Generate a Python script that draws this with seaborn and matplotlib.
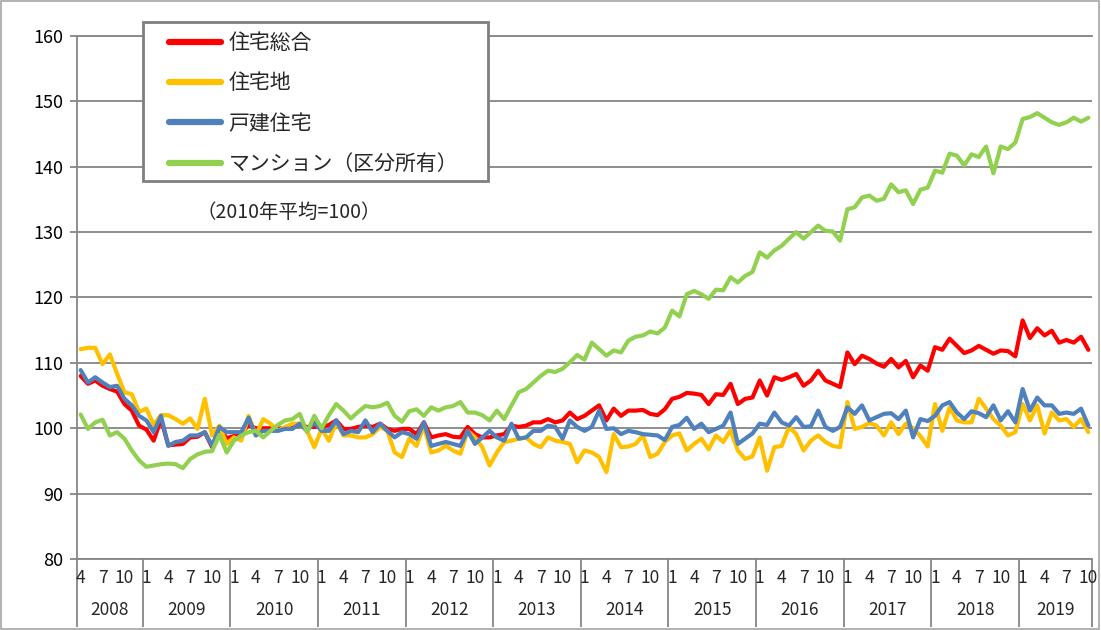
import numpy as np
import pandas as pd
import matplotlib.pyplot as plt
import seaborn as sns
from matplotlib.patches import Rectangle

# 不動産価格指数（住宅）月次 2008年4月～2019年10月
months = pd.date_range('2008-04-01', periods=139, freq='MS')

# 住宅総合
sogo = [108.0, 106.8, 107.3, 106.5, 106.0, 105.6, 103.7, 102.7, 100.4,
        99.8, 98.1, 101.4, 97.4, 97.5, 97.6, 98.6, 98.7, 99.4, 97.1, 99.9, 98.5,
        98.8, 99.2, 100.5, 100.0, 100.0, 100.0, 100.0, 99.9, 100.2, 100.5, 100.2, 100.2,
        100.2, 100.5, 101.2, 99.9, 99.9, 100.2, 100.4, 100.2, 100.7, 99.9, 99.6, 99.9,
        99.9, 99.1, 100.9, 98.6, 98.9, 99.1, 98.7, 98.6, 100.2, 99.1, 98.6, 98.6,
        98.9, 99.1, 100.4, 100.2, 100.4, 100.9, 100.9, 101.4, 100.9, 101.2, 102.4, 101.4,
        101.9, 102.7, 103.5, 101.2, 103.0, 101.9, 102.7, 102.7, 102.8, 102.2, 102.0, 102.9,
        104.5, 104.8, 105.4, 105.3, 105.1, 103.7, 105.2, 105.1, 106.8, 103.7, 104.5, 104.7,
        107.3, 105.0, 107.8, 107.4, 107.8, 108.3, 106.5, 107.3, 108.8, 107.3, 106.8, 106.3,
        111.6, 109.8, 111.1, 110.6, 109.9, 109.4, 110.6, 109.3, 110.3, 107.8, 109.6, 108.8,
        112.4, 112.0, 113.7, 112.6, 111.5, 111.9, 112.6, 112.0, 111.4, 111.9, 111.8, 111.0,
        116.5, 113.8, 115.3, 114.2, 114.9, 113.1, 113.5, 113.1, 114.0, 112.0]

# 住宅地
takuchi = [112.1, 112.3, 112.3, 109.8, 111.3, 108.3, 105.5, 105.2, 102.5,
           103.0, 100.5, 102.0, 102.0, 101.4, 100.7, 101.5, 99.9, 104.5, 98.9, 100.4, 97.6,
           98.6, 98.1, 101.9, 98.9, 101.4, 100.7, 99.6, 100.2, 100.7, 100.7, 99.6, 97.1,
           99.9, 98.1, 100.9, 98.9, 98.9, 98.6, 98.6, 99.1, 100.2, 99.6, 96.3, 95.6,
           98.4, 97.3, 100.4, 96.3, 96.6, 97.3, 96.6, 96.1, 99.6, 98.6, 97.1, 94.3,
           96.3, 97.9, 98.1, 98.4, 98.6, 97.6, 97.1, 98.6, 98.1, 97.9, 97.6, 94.8,
           96.6, 96.3, 95.6, 93.3, 99.1, 97.1, 97.2, 97.6, 98.9, 95.6, 96.1, 97.9,
           98.9, 99.2, 96.6, 97.6, 98.4, 96.8, 98.9, 97.9, 99.7, 96.6, 95.3, 95.7,
           98.6, 93.5, 97.1, 97.3, 100.2, 99.1, 96.6, 98.1, 98.9, 97.9, 97.3, 97.1,
           104.0, 99.9, 100.2, 100.8, 100.4, 98.9, 100.9, 99.1, 100.7, 100.0, 98.8, 97.2,
           103.7, 99.6, 103.2, 101.2, 100.9, 100.9, 104.5, 103.0, 101.4, 100.4, 98.9, 99.4,
           103.7, 101.2, 103.5, 99.2, 102.4, 101.2, 101.4, 100.2, 101.4, 99.4]

# 戸建住宅
kodate = [108.9, 107.0, 107.8, 107.0, 106.3, 106.5, 104.5, 103.5, 101.9,
          101.2, 99.4, 101.9, 97.3, 97.9, 98.1, 98.9, 98.9, 99.4, 97.3, 100.2, 99.4,
          99.4, 99.4, 101.6, 98.9, 99.6, 99.6, 99.6, 99.9, 99.9, 100.7, 99.6, 100.9,
          99.6, 99.6, 101.2, 99.1, 99.6, 99.4, 101.2, 99.4, 100.7, 99.6, 98.6, 99.4,
          99.1, 98.4, 100.9, 97.3, 97.6, 97.9, 97.6, 97.3, 99.6, 97.6, 98.6, 99.6,
          98.6, 98.1, 100.7, 98.4, 98.6, 99.6, 99.6, 100.4, 100.2, 98.4, 101.2, 100.2,
          99.6, 100.2, 102.7, 99.9, 100.0, 99.1, 99.6, 99.4, 99.1, 99.0, 98.9, 98.2,
          100.2, 100.5, 101.6, 99.9, 100.7, 99.4, 99.9, 100.4, 102.4, 97.6, 98.4, 99.2,
          100.7, 100.5, 102.4, 100.9, 100.4, 101.7, 100.2, 100.3, 102.7, 100.2, 99.6, 100.2,
          103.2, 102.2, 103.5, 101.2, 101.7, 102.2, 102.3, 101.4, 102.7, 98.6, 101.4, 101.1,
          101.9, 103.5, 104.0, 102.4, 101.4, 102.6, 102.3, 101.7, 103.5, 101.2, 102.6, 100.9,
          106.0, 102.7, 104.7, 103.5, 103.5, 102.2, 102.4, 102.2, 103.0, 100.4]

# マンション（区分所有）
mansion = [102.1, 99.9, 100.9, 101.3, 98.9, 99.4, 98.4, 96.6, 95.1,
           94.1, 94.3, 94.5, 94.6, 94.5, 93.9, 95.3, 96.0, 96.4, 96.5, 99.0, 96.3,
           98.1, 98.9, 99.4, 99.6, 98.6, 99.6, 100.5, 101.2, 101.4, 102.2, 99.4, 101.9,
           100.0, 102.0, 103.7, 102.7, 101.5, 102.5, 103.4, 103.2, 103.4, 103.9, 101.9, 101.0,
           102.6, 102.9, 101.9, 103.2, 102.7, 103.2, 103.4, 104.0, 102.4, 102.4, 102.0, 101.2,
           102.7, 101.4, 103.5, 105.5, 106.0, 107.0, 108.0, 108.8, 108.6, 109.1, 110.1, 111.2,
           110.5, 113.1, 112.1, 111.1, 111.9, 111.6, 113.4, 114.0, 114.2, 114.8, 114.5, 115.4,
           118.0, 117.1, 120.5, 121.0, 120.5, 119.8, 121.2, 121.1, 123.1, 122.3, 123.3, 123.9,
           126.9, 126.1, 127.2, 127.9, 129.0, 130.0, 129.0, 130.0, 131.0, 130.2, 130.1, 128.7,
           133.5, 133.8, 135.3, 135.6, 134.8, 135.1, 137.3, 136.1, 136.4, 134.3, 136.5, 136.8,
           139.4, 139.1, 142.0, 141.7, 140.2, 141.9, 141.5, 143.1, 139.0, 143.1, 142.7, 143.7,
           147.3, 147.6, 148.2, 147.5, 146.8, 146.4, 146.8, 147.5, 146.9, 147.5]

series_names = ['住宅総合', '住宅地', '戸建住宅', 'マンション（区分所有）']
colors = ['#FF0000', '#FFC000', '#4F81BD', '#92D050']
y_ticks = [80, 90, 100, 110, 120, 130, 140, 150, 160]

n = len(months)
df = pd.DataFrame({
    'idx': np.tile(np.arange(n), 4),
    'value': sogo + takuchi + kodate + mansion,
    'series': np.repeat(series_names, n),
})

sns.set_style('white')
plt.rcParams['font.family'] = ['Noto Sans CJK JP', 'DejaVu Sans']

fig = plt.figure(figsize=(11.01, 6.30), dpi=100)
ax = fig.add_axes([77 / 1101, 71 / 630, 1015 / 1101, 523 / 630])

sns.lineplot(data=df, x='idx', y='value', hue='series', hue_order=series_names,
             palette=colors, linewidth=3, legend=False, ax=ax)
for line in ax.get_lines():
    line.set_solid_joinstyle('round')
    line.set_solid_capstyle('round')

grid_col = '#868686'
ax.set_xlim(-0.5, n - 0.5)
ax.set_ylim(80, 160)
ax.set_yticks(y_ticks)
ax.set_xticks([])
ax.set_xlabel('')
ax.set_ylabel('')
ax.grid(axis='y', color=grid_col, linewidth=1.3)
ax.set_axisbelow(True)
for side in ['top', 'bottom', 'left']:
    ax.spines[side].set_color(grid_col)
    ax.spines[side].set_linewidth(1.3)
ax.spines['right'].set_visible(False)
ax.tick_params(axis='y', left=True, length=5, width=1.3, color=grid_col,
               labelsize=13, pad=5, labelcolor='black')

# 月ラベルと年ラベル（2段のカテゴリ軸）
xt = ax.get_xaxis_transform()
for i, d in enumerate(months):
    if d.month in (1, 4, 7, 10):
        ax.text(i, -0.036, str(d.month), transform=xt, ha='center', va='center',
                fontsize=12.5)

bounds = [-0.5] + [i - 0.5 for i, d in enumerate(months) if d.month == 1] + [n - 0.5]
for a, b in zip(bounds[:-1], bounds[1:]):
    year = months[int(a + 0.5)].year
    ax.text((a + b) / 2, -0.098, str(year), transform=xt, ha='center', va='center',
            fontsize=12.5)
ax.vlines(bounds, -0.13, 0, transform=xt, colors=grid_col, linewidth=1.3, clip_on=False)

# 外枠
fig.add_artist(Rectangle((0.001, 0.001), 0.997, 0.997, transform=fig.transFigure,
                         fill=False, edgecolor='#a6a6a6', linewidth=1.2))

# 凡例
fig.add_artist(Rectangle((143 / 1101, 1 - 181 / 630), 345 / 1101, 159 / 630,
                         transform=fig.transFigure, facecolor='white',
                         edgecolor='#7f7f7f', linewidth=2, zorder=3))
leg = fig.legend(ax.get_lines(), series_names, loc='upper left',
                 bbox_to_anchor=(169 / 1101, 1 - 32 / 630), frameon=False,
                 fontsize=15, handlelength=2.5, handletextpad=0.35,
                 labelspacing=0.88, borderpad=0, borderaxespad=0)
leg.set_zorder(5)
for h in leg.get_lines():
    h.set_linewidth(4.5)
    h.set_solid_capstyle('round')

fig.text(196 / 1101, 1 - 212 / 630, '（2010年平均=100）', fontsize=14, va='center', ha='left')

fig.savefig('out.png', dpi=100)
